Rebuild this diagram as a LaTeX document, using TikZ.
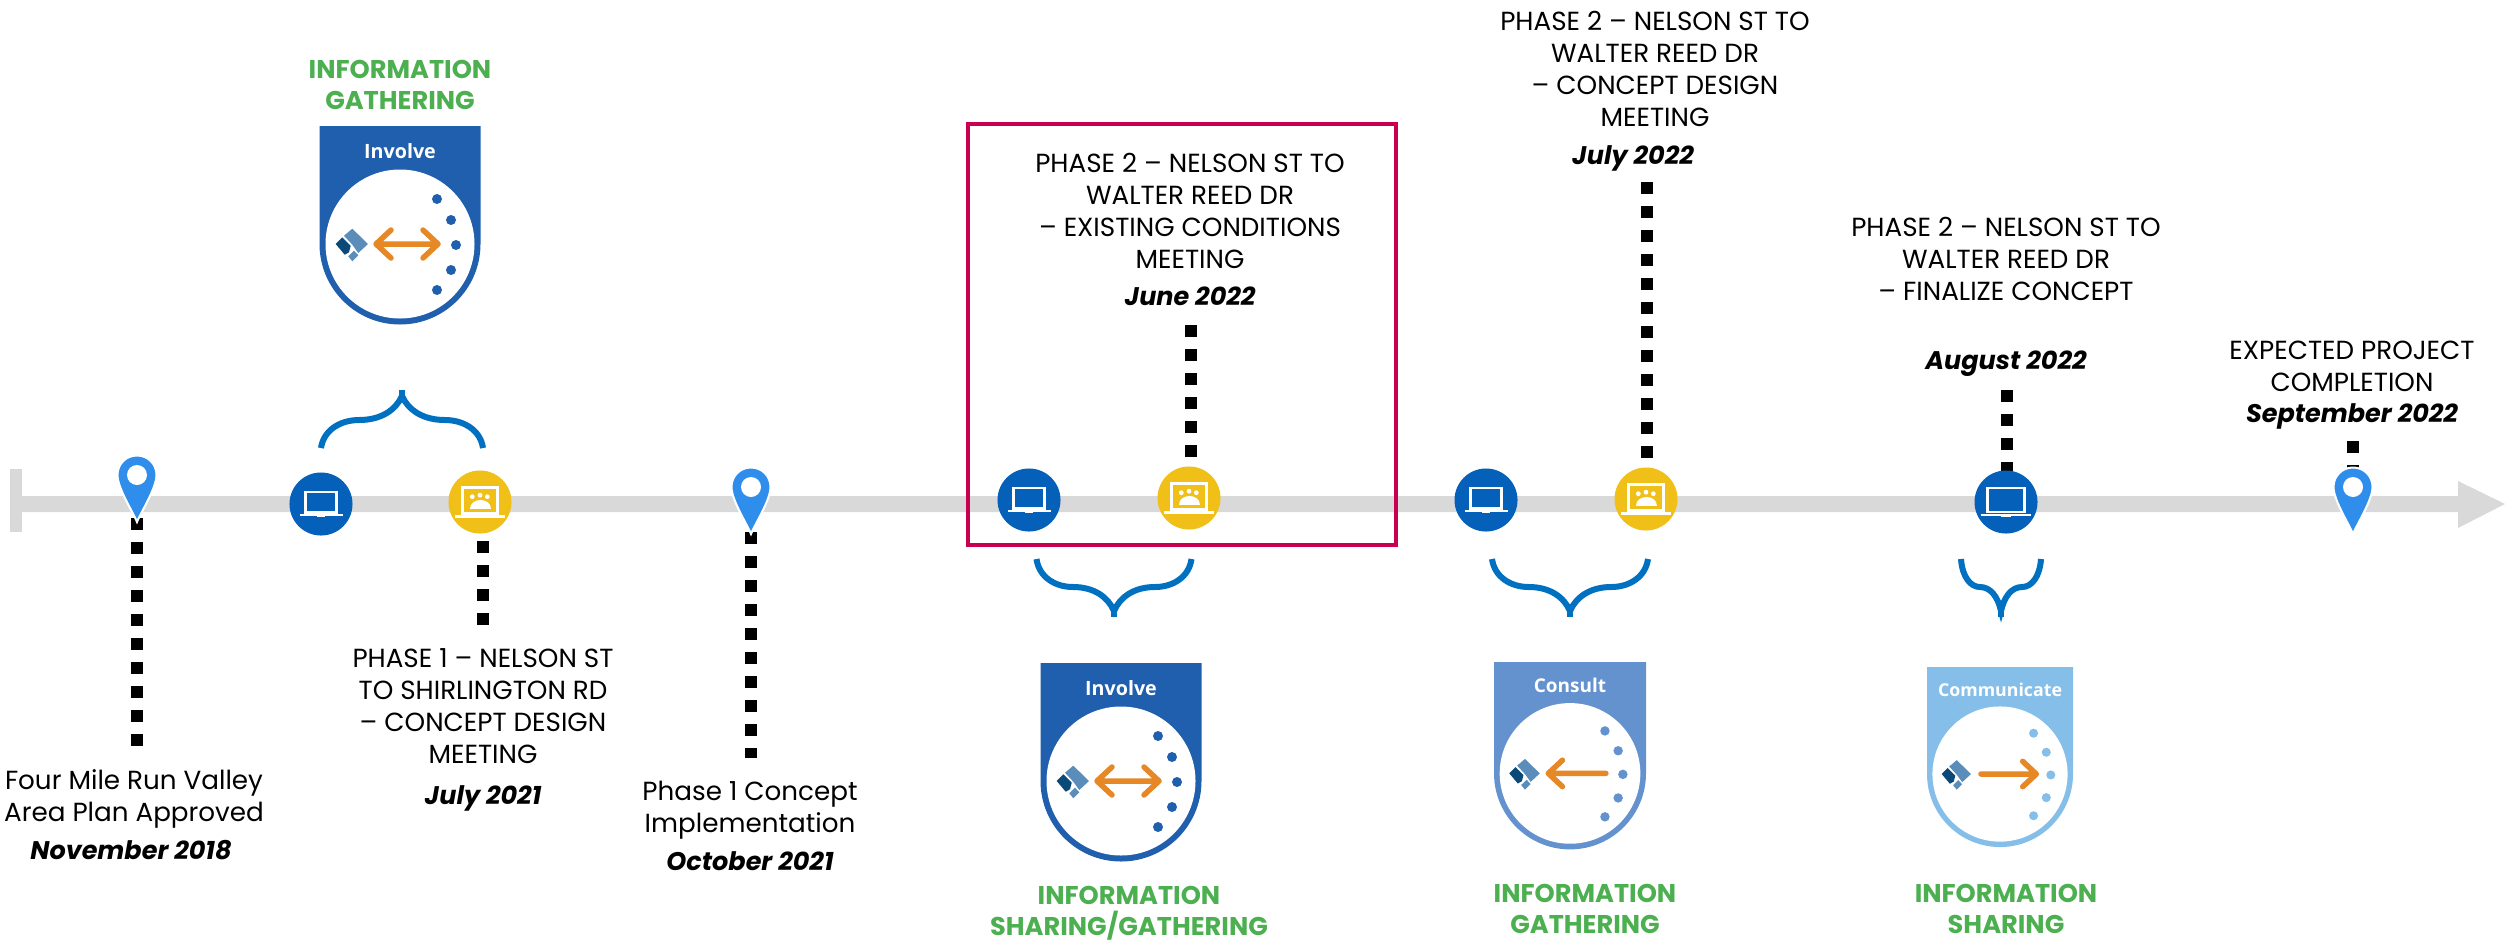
\documentclass[tikz,border=0pt]{standalone}
\usepackage{fontspec}
\setmainfont{Poppins}
\newfontfamily\badgefont{Open Sans}
\definecolor{bandgray}{HTML}{D9D9D9}
\definecolor{circblue}{HTML}{0460B8}
\definecolor{circyellow}{HTML}{F0C019}
\definecolor{pinblue}{HTML}{2F8DEB}
\definecolor{bracecol}{HTML}{0070C0}
\definecolor{redbox}{HTML}{C8004F}
\definecolor{greentxt}{HTML}{4CAF50}
\definecolor{orangearr}{HTML}{E58825}
\definecolor{involvec}{HTML}{1F5FAD}
\definecolor{consultc}{HTML}{6492CE}
\definecolor{commc}{HTML}{85BFE9}
\definecolor{logodark}{HTML}{0B4A78}
\definecolor{logolight}{HTML}{5B8DBA}
\tikzset{
  x=0.01cm,y=-0.01cm,
  body/.style={font=\fontsize{7.45}{9.1}\selectfont,align=center,text=black,inner sep=0pt},
  datetxt/.style={font=\fontsize{7.25}{9.1}\selectfont\bfseries\itshape,text=black,inner sep=0pt},
  greenhead/.style={font=\fontsize{7.3}{8.8}\selectfont\bfseries,align=center,text=greentxt,inner sep=0pt},
  squares/.style={line width=1.2mm,dash pattern=on 1.2mm off 1.2mm,black},
  bluedisc/.style={circle,fill=circblue,minimum size=6.3mm,inner sep=0pt},
  yellowdisc/.style={circle,fill=circyellow,minimum size=6.3mm,inner sep=0pt},
  bracestroke/.style={draw=bracecol,line width=0.6mm},
}
\newcommand\laptopicon[4]{%
  \begin{scope}[shift={(#1,#2)},scale=#3]
    \draw[white,line width=#4] (-15.5,-12) rectangle (15.5,8.5);
    \draw[white,line width=0.28mm] (-21.5,11) -- (21.5,11);
    \fill[white] (-4,11) rectangle (4,12.5);
  \end{scope}}
\newcommand\meetingicon[2]{%
  \begin{scope}[shift={(#1,#2)}]
    \draw[white,line width=0.25mm] (-17.5,-14.5) rectangle (17.5,11.5);
    \draw[white,line width=0.3mm] (-25,14) -- (25,14);
    \fill[white] (-7.7,-5.3) circle (2.4) (0,-6.8) circle (2.4) (7.3,-5.3) circle (2.4);
    \fill[white] (-10.5,6.5) .. controls (-10.5,-5) and (10.5,-5) .. (10.5,6.5) -- cycle;
  \end{scope}}
\newcommand\mappin[3]{%
  \coordinate (#1) at (#2,#3);
  \begin{scope}[shift={(#2,#3)}]
    \fill[pinblue,draw=white,line width=0.2mm]
      (0,47) .. controls (-4,37) and (-19.5,13) .. (-19.5,0)
      .. controls (-19.5,-11) and (-11,-19.5) .. (0,-19.5)
      .. controls (11,-19.5) and (19.5,-11) .. (19.5,0)
      .. controls (19.5,13) and (4,37) .. (0,47) -- cycle;
    \fill[white] (0,0) circle (10);
  \end{scope}}
\newcommand\curlybrace[4]{%
  \begin{scope}[shift={(#1,#2)},xscale=#3/77.5,yscale=#4]
    \draw[bracestroke] (-77.5,-58) .. controls (-75,-40) and (-59,-30) .. (-41,-30)
      .. controls (-20,-30) and (-6,-20) .. (0,-6)
      .. controls (6,-20) and (20,-30) .. (41,-30)
      .. controls (59,-30) and (75,-40) .. (77.5,-58);
    \draw[bracestroke] (0,-8) -- (0,0);
  \end{scope}}
\newcommand\badge[8]{%
  \begin{scope}[shift={(#2,#3)},scale=#4]
    \fill[#5] (-80.5,0) -- (80.5,0) -- (80.5,118) arc (0:180:80.5) -- cycle;
    \fill[white] (0,118) circle (74.5);
    \node[font=\fontsize{#7}{#7}\badgefont\bfseries,text=white,inner sep=0pt] (#1) at (0,25) {#6};
    \begin{scope}[shift={(0,118)}]
      \fill[#5] (37,-45) circle (5) (51,-24) circle (5) (56,1) circle (5) (51,26) circle (5) (37,46) circle (5);
      \draw[orangearr,line width=0.55mm,line cap=round,line join=round] #8;
      \fill[logolight] (-47.7,-15.3) -- (-32,0) -- (-41.7,9) -- (-47.7,0.7) -- (-56,-8.3) -- cycle;
      \fill[logodark] (-64.3,0) -- (-57.7,-6.7) -- (-49.3,1.7) -- (-51,8.3) -- (-55.3,10.7) -- cycle;
      \fill[logolight] (-51.7,12.3) -- (-46,6.7) -- (-41.7,11.3) -- (-47.7,17.3) -- cycle;
    \end{scope}
  \end{scope}}
\begin{document}
\begin{tikzpicture}
\useasboundingbox (0,0) rectangle (2506,939);
% timeline
\coordinate (axisstart) at (22,504);
\coordinate (axisend) at (2505,504);
\fill[bandgray] (10,469) rectangle (22,532);
\fill[bandgray] (22,496) -- (2458,496) -- (2458,481) -- (axisend) -- (2458,528) -- (2458,512) -- (22,512) -- cycle;
% dotted leaders
\coordinate (d1a) at (137,518); \coordinate (d1b) at (137,746);
\coordinate (d2a) at (483,541); \coordinate (d2b) at (483,625);
\coordinate (d3a) at (751,532); \coordinate (d3b) at (751,758);
\coordinate (d4a) at (1191,325); \coordinate (d4b) at (1191,457);
\coordinate (d5a) at (1647,182); \coordinate (d5b) at (1647,458);
\coordinate (d6a) at (2007,390); \coordinate (d6b) at (2007,475);
\coordinate (d7a) at (2353,441); \coordinate (d7b) at (2353,477);
\foreach \s in {1,...,7} \draw[squares] (d\s a) -- (d\s b);
% markers
\node[bluedisc] (b1) at (321,504) {};
\node[yellowdisc] (y1) at (480,502) {};
\node[bluedisc] (b2) at (1029,500) {};
\node[yellowdisc] (y2) at (1189,498) {};
\node[bluedisc] (b3) at (1486,500) {};
\node[yellowdisc] (y3) at (1646,499) {};
\node[bluedisc] (b4) at (2006,502) {};
\laptopicon{321}{504}{1}{0.22mm}
\laptopicon{1029}{500}{1}{0.22mm}
\laptopicon{1486}{500}{1}{0.22mm}
\laptopicon{2006}{502}{1.18}{0.26mm}
\meetingicon{480}{502}
\meetingicon{1189}{498}
\meetingicon{1646}{499}
\mappin{p1}{137}{475}
\mappin{p2}{751}{487}
\mappin{p3}{2353}{487}
% highlight box
\draw[redbox,line width=0.4mm] (968,124) rectangle (1396,545);
% braces
\curlybrace{402}{390}{81}{-1}
\curlybrace{1114}{617}{77.5}{1}
\curlybrace{1570}{617}{78}{1}
\curlybrace{2001}{617}{40}{1}
% badges
\badge{bdg1}{400}{126}{1}{involvec}{Involve}{5.6}{(-24,0)--(38,0) (-9,-14)--(-24,0)--(-9,14) (23,-14)--(38,0)--(23,14)}
\badge{bdg2}{1121}{663}{1}{involvec}{Involve}{5.6}{(-24,0)--(38,0) (-9,-14)--(-24,0)--(-9,14) (23,-14)--(38,0)--(23,14)}
\badge{bdg3}{1570}{662}{0.944}{consultc}{Consult}{5.4}{(-23,0)--(38,0) (-8,-14)--(-23,0)--(-8,14)}
\badge{bdg4}{2000}{667}{0.907}{commc}{Communicate}{5.05}{(-21,0)--(40,0) (25,-14)--(40,0)--(25,14)}
% texts
\node[greenhead] (g1) at (400,85) {INFORMATION\\GATHERING};
\node[greenhead] (g2) at (1129,913) {INFORMATION\\SHARING/GATHERING};
\node[greenhead] (g3) at (1585,909) {INFORMATION\\GATHERING};
\node[greenhead] (g4) at (2006,909) {INFORMATION\\SHARING};
\node[body] (t1) at (134,799) {Four Mile Run Valley\\Area Plan Approved};
\node[datetxt] (t1d) at (131,850) {November 2018};
\node[body] (t2) at (483,706) {PHASE 1 – NELSON ST\\TO SHIRLINGTON RD\\– CONCEPT DESIGN\\MEETING};
\node[datetxt] (t2d) at (483,798) {July 2021};
\node[body] (t3) at (750,810) {Phase 1 Concept\\Implementation};
\node[datetxt] (t3d) at (750,861) {October 2021};
\node[body] (t4) at (1190,211) {PHASE 2 – NELSON ST TO\\WALTER REED DR\\– EXISTING CONDITIONS\\MEETING};
\node[datetxt] (t4d) at (1190,296) {June 2022};
\node[body] (t5) at (1655,69) {PHASE 2 – NELSON ST TO\\WALTER REED DR\\– CONCEPT DESIGN\\MEETING};
\node[datetxt] (t5d) at (1633,158) {July 2022};
\node[body] (t6) at (2006,259) {PHASE 2 – NELSON ST TO\\WALTER REED DR\\– FINALIZE CONCEPT};
\node[datetxt] (t6d) at (2006,364) {August 2022};
\node[body] (t7) at (2352,366) {EXPECTED PROJECT\\COMPLETION};
\node[datetxt] (t7d) at (2352,416) {September 2022};
\end{tikzpicture}
\end{document}
